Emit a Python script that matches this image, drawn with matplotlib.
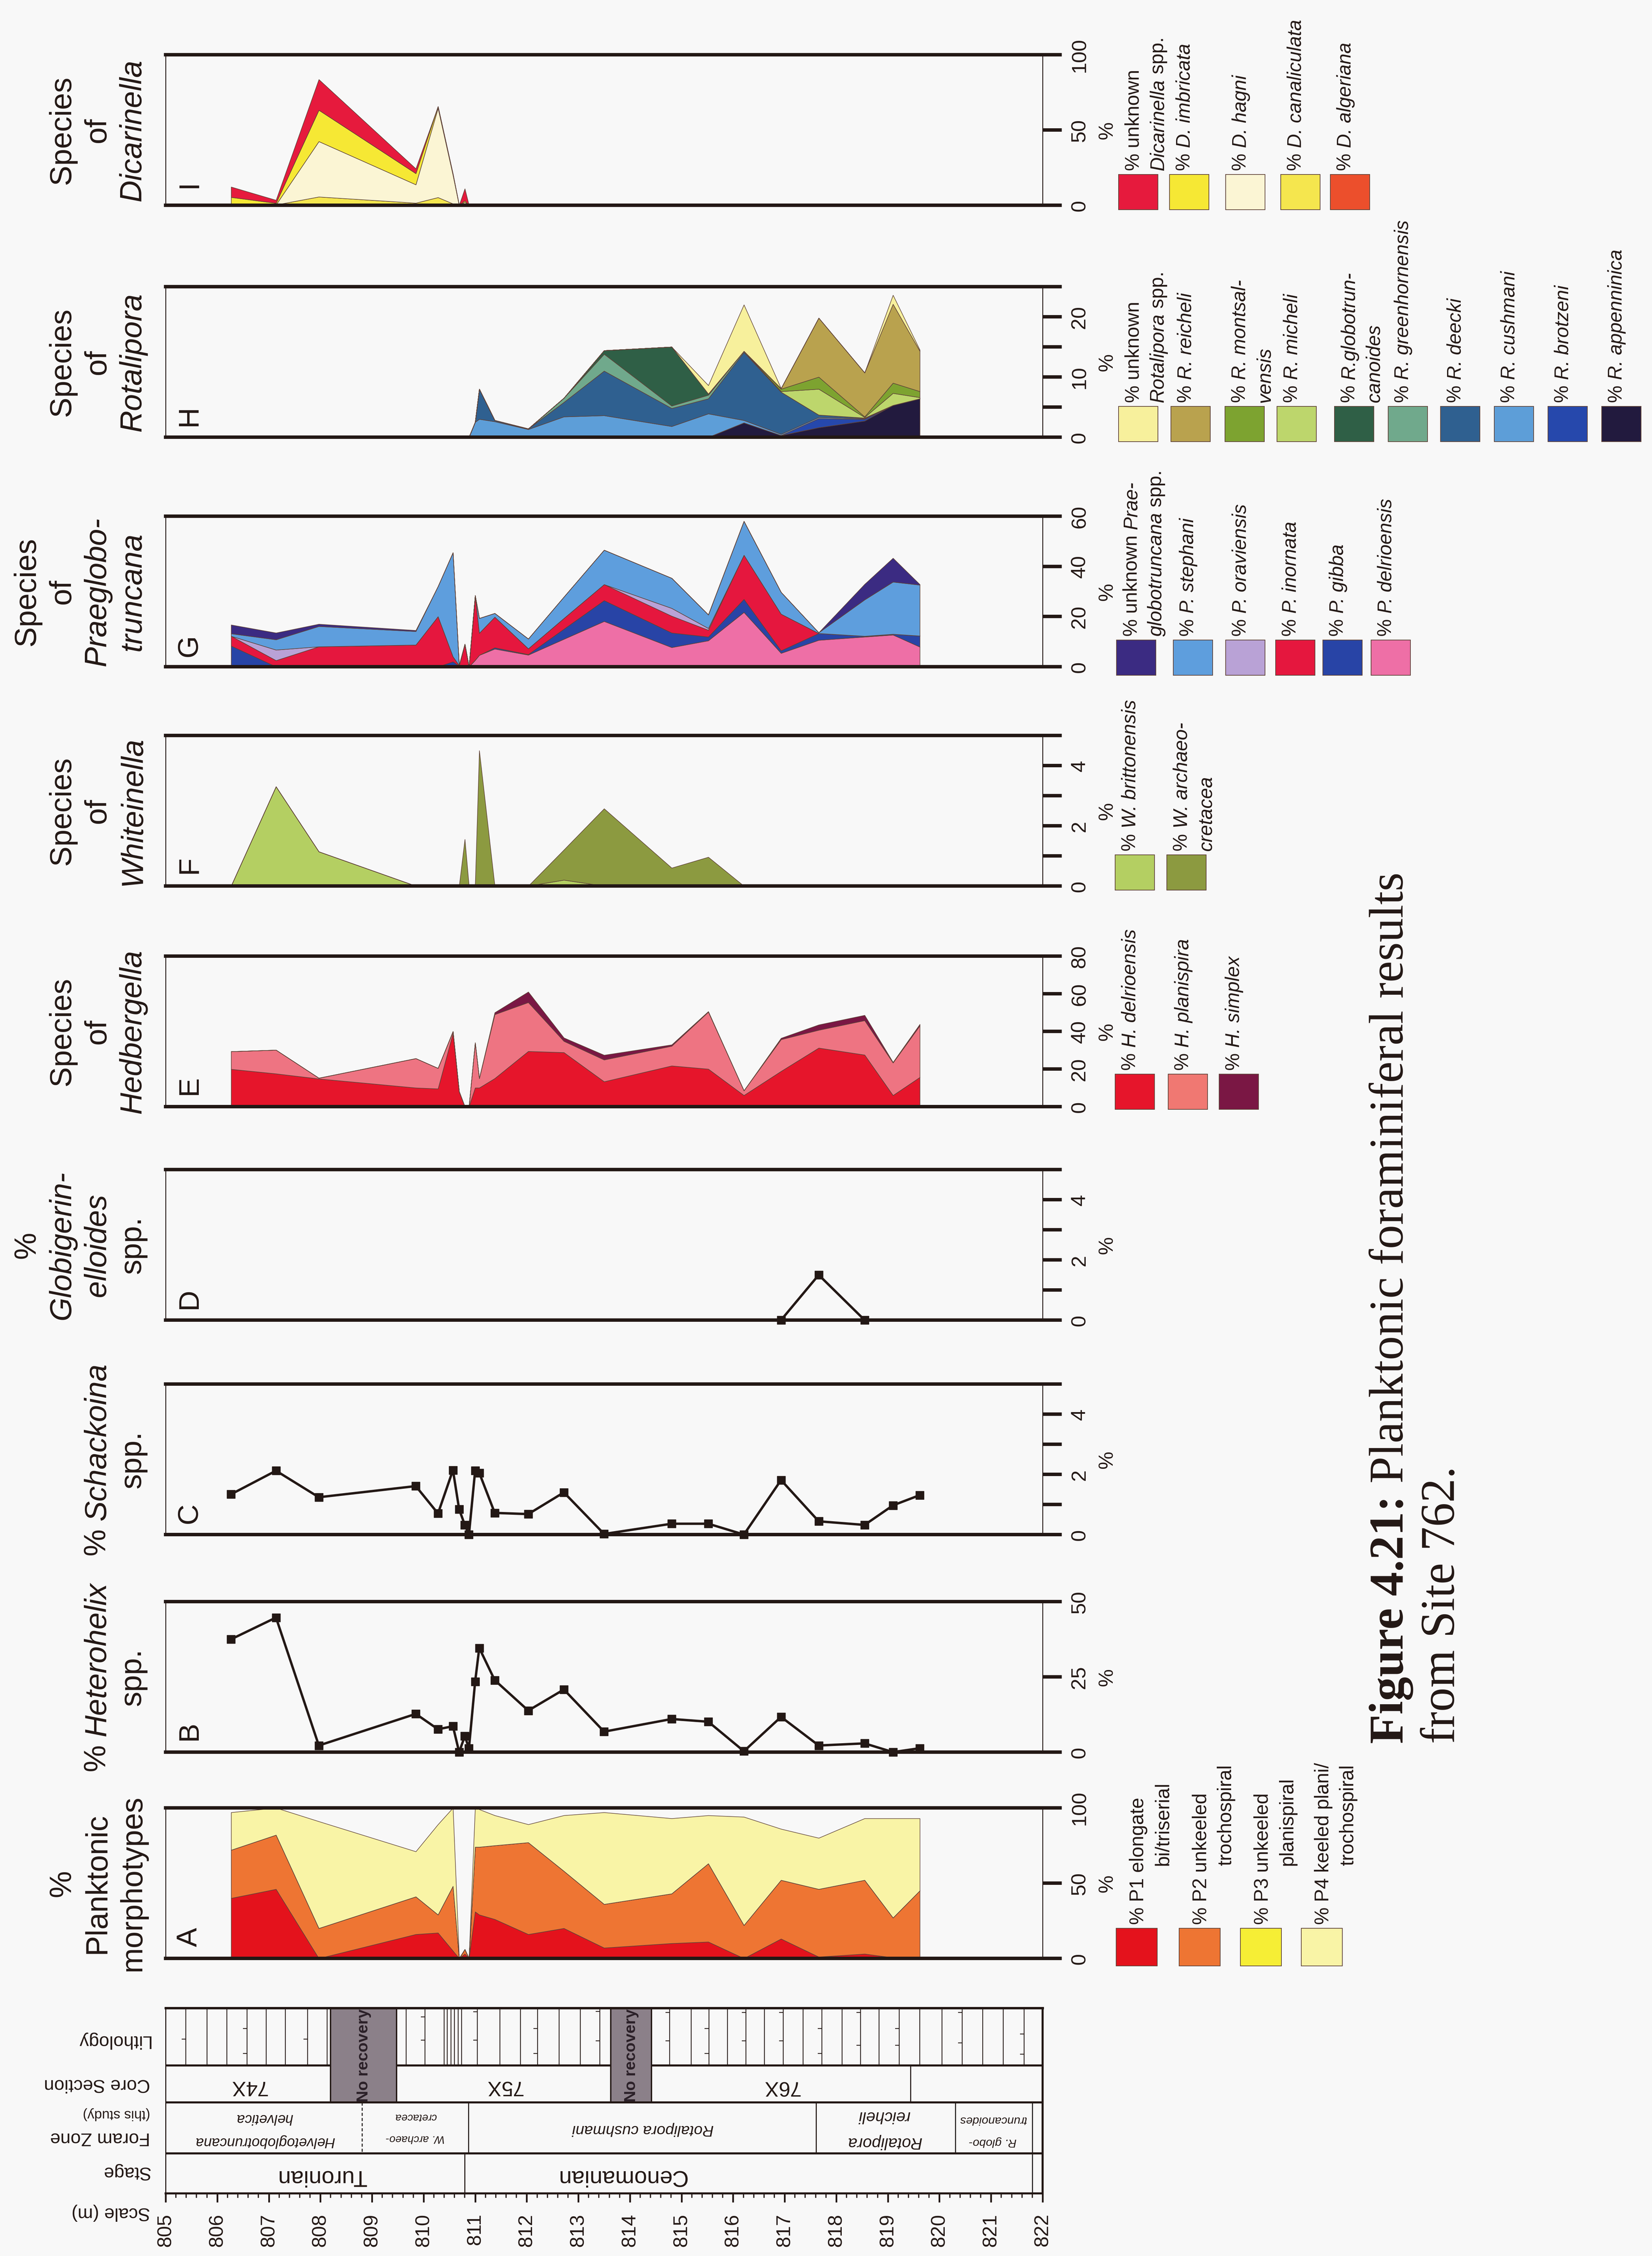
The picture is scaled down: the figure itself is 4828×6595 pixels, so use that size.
#!/usr/bin/env python3
"""Fig. 4.21 - planktonic foraminiferal results, Site 762 (page printed rotated)."""

import matplotlib
matplotlib.use("Agg")
import matplotlib.pyplot as plt
from matplotlib import font_manager
from matplotlib.patches import Rectangle
from matplotlib.ticker import MultipleLocator

W_PX, H_PX, DPI = 4828, 6596, 100
PT = 72.0 / DPI  # points per output pixel

INK = "#231815"
BG = "#f8f8f8"
EDGE = "#5e4238"
GRAY = "#8b8089"

# ---------------------------------------------------------------- data
depth_m = [806.27, 807.14, 807.97, 809.85, 810.28, 810.57, 810.69, 810.80,
           810.88, 811.00, 811.08, 811.38, 812.03, 812.72, 813.50, 814.81,
           815.52, 816.21, 816.93, 817.66, 818.55, 819.10, 819.62]

# A  morphotypes (%)
p1_elongate = [40, 46, 0, 16, 17, 5, 0, 3, 0, 31, 29, 26, 16, 20, 7, 10, 11, 0, 13, 1, 3, 0.5, 0]
p2_unkeeled_trocho = [32, 36, 20, 25, 12, 43, 0, 3, 0, 43, 45, 49, 61, 38, 29, 33, 52, 22, 39, 45, 49, 26.5, 45]
p3_unkeeled_plani = [0, 0, 0, 0, 0, 0, 0, 0, 0, 0, 0, 0, 0, 0, 0, 0, 0, 0, 0, 0, 0, 0, 0]
p4_keeled = [25, 18, 71, 30, 60, 52, 0, 0, 0, 26, 25, 20, 12, 37, 61, 50, 32, 72, 34, 34, 41, 66, 48]

# B, C line records (%)
heterohelix = [37.5, 44.7, 2.2, 12.7, 7.6, 8.6, 0.0, 5.3, 1.3, 23.4, 34.6, 23.9,
               13.8, 20.8, 6.8, 11.0, 10.1, 0.3, 11.7, 2.2, 2.9, 0.0, 1.3]
schackoina = [1.34, 2.12, 1.24, 1.61, 0.70, 2.14, 0.84, 0.32, 0.0, 2.12, 2.05, 0.72,
              0.68, 1.40, 0.02, 0.36, 0.36, 0.0, 1.81, 0.44, 0.32, 0.97, 1.31]

# D
globig_depth = [816.93, 817.66, 818.55]
globigerinelloides = [0.0, 1.5, 0.0]

# E  Hedbergella
h_delrioensis = [19.9, 17.5, 14.8, 10.0, 9.5, 39.0, 8.0, 0.0, 0.0, 10.0, 10.0, 15.0,
                 29.4, 28.8, 13.3, 21.7, 20.0, 6.0, 18.8, 31.2, 27.5, 6.0, 15.6]
h_planispira = [9.4, 12.6, 0.4, 15.6, 10.9, 1.0, 0.0, 0.0, 0.0, 24.0, 5.0, 34.0,
                26.0, 6.0, 11.6, 10.5, 30.3, 2.5, 16.9, 9.5, 18.3, 17.3, 27.4]
h_simplex = [0, 0, 0, 0, 0, 0, 0, 0, 0, 0, 0, 1.0, 5.6, 1.8, 2.5, 0.7, 0.3, 0, 0.7, 2.8, 2.8, 0.3, 0.8]

# F  Whiteinella
w_brittonensis = [0, 3.3, 1.14, 0, 0, 0, 0, 0, 0, 0, 0, 0, 0, 0.2, 0, 0, 0, 0, 0, 0, 0, 0, 0]
w_archaeocretacea = [0, 0, 0, 0, 0, 0, 0, 1.55, 0, 0, 4.5, 0, 0, 1.0, 2.57, 0.6, 0.96, 0, 0, 0, 0, 0, 0]

# G  Praeglobotruncana (bottom -> top)
p_delrioensis = [0, 0, 0, 0, 0, 0, 0, 0, 0, 2.6, 4.6, 7.1, 4.7, 11.0, 18.1, 7.7, 10.4, 21.7, 5.4, 10.6, 11.9, 12.7, 7.9]
p_gibba = [8.3, 0, 0, 0, 0, 2.0, 0.3, 0.5, 0, 0, 0, 0.5, 0.2, 4.0, 8.3, 5.8, 1.5, 5.2, 1.0, 2.7, 0.3, 0.3, 4.4]
p_inornata = [3.9, 2.5, 8.0, 8.7, 20.0, 2.0, 0.2, 8.5, 0, 25.8, 8.8, 12.2, 2.3, 4.3, 6.4, 6.7, 2.7, 17.6, 14.6, 0, 0, 0, 0]
p_oraviensis = [0, 4.2, 0, 0, 0, 0, 0, 0, 0, 0, 0, 0, 0, 0, 0, 3.1, 0.7, 0, 0, 0, 0, 0, 0]
p_stephani = [1.0, 4.1, 8.1, 5.4, 12.0, 41.5, 0, 0, 0, 0, 5.9, 1.5, 3.9, 8.5, 13.7, 12.0, 5.4, 13.5, 8.7, 0.3, 14.5, 20.8, 20.3]
p_unknown = [3.5, 2.7, 0.9, 0.4, 0, 0, 0, 0, 0, 0, 0, 0, 0, 0, 0, 0, 0, 0, 0, 0, 6.2, 9.5, 0.2]

# H  Rotalipora (bottom -> top)
r_appenninica = [0, 0, 0, 0, 0, 0, 0, 0, 0, 0, 0, 0, 0, 0, 0, 0, 0, 2.4, 0.3, 1.6, 2.7, 5.3, 6.4]
r_brotzeni = [0, 0, 0, 0, 0, 0, 0, 0, 0, 0, 0, 0, 0, 0, 0, 0, 0, 0, 0, 1.5, 0.3, 0, 0]
r_cushmani = [0, 0, 0, 0, 0, 0, 0, 0, 0, 2.5, 3.0, 2.6, 1.3, 3.4, 3.6, 1.8, 3.9, 0.4, 0.2, 0.2, 0.1, 0, 0]
r_deecki = [0, 0, 0, 0, 0, 0, 0, 0, 0, 0, 5.0, 0.2, 0.1, 2.4, 7.4, 3.0, 2.5, 11.3, 7.0, 0.4, 0.1, 0, 0]
r_greenhornensis = [0, 0, 0, 0, 0, 0, 0, 0, 0, 0, 0, 0, 0, 0.7, 2.8, 0.4, 0.6, 0.2, 0, 0, 0, 0, 0]
r_globotruncanoides = [0, 0, 0, 0, 0, 0, 0, 0, 0, 0, 0, 0, 0, 0, 0.6, 9.8, 0.2, 0, 0, 0, 0, 0, 0]
r_micheli = [0, 0, 0, 0, 0, 0, 0, 0, 0, 0, 0, 0, 0, 0, 0, 0, 0, 0, 0.1, 4.3, 0.1, 2.0, 0.2]
r_montsalvensis = [0, 0, 0, 0, 0, 0, 0, 0, 0, 0, 0, 0, 0, 0, 0, 0, 0, 0, 0.4, 2.0, 0.1, 1.7, 1.0]
r_reicheli = [0, 0, 0, 0, 0, 0, 0, 0, 0, 0, 0, 0, 0, 0, 0, 0, 0, 0, 0.1, 9.8, 7.3, 13.1, 6.7]
r_unknown = [0, 0, 0, 0, 0, 0, 0, 0, 0, 0, 0, 0, 0, 0, 0, 0, 1.4, 7.7, 0, 0, 0, 1.5, 0.2]

# I  Dicarinella (bottom -> top)
d_algeriana = [0, 0, 0, 0, 0, 0, 0, 0, 0, 0, 0, 0, 0, 0, 0, 0, 0, 0, 0, 0, 0, 0, 0]
d_canaliculata = [1.0, 0.3, 5.6, 1.5, 5.2, 1.0, 0, 0, 0, 0, 0, 0, 0, 0, 0, 0, 0, 0, 0, 0, 0, 0, 0]
d_hagni = [0, 0, 36.8, 12.2, 59.3, 19.0, 0, 2.0, 0, 0, 0, 0, 0, 0, 0, 0, 0, 0, 0, 0, 0, 0, 0]
d_imbricata = [4.3, 1.1, 20.8, 7.4, 1.1, 0.5, 0, 1.0, 0, 0, 0, 0, 0, 0, 0, 0, 0, 0, 0, 0, 0, 0, 0]
d_unknown = [6.9, 2.0, 20.4, 3.2, 0, 0.5, 0, 8.0, 0, 0, 0, 0, 0, 0, 0, 0, 0, 0, 0, 0, 0, 0, 0]

# stratigraphic column
stage_names = ["Turonian", "Cenomanian"]
stage_bounds = [805.0, 810.8, 821.8]
stage_label_at = [808.03, 813.84]
zone_bounds = [805.0, 808.81, 810.87, 817.61, 820.31, 821.8]
core_names = ["74X", "75X", "76X"]
core_spans = [(805.0, 808.2), (809.48, 813.63), (814.42, 819.44)]
no_recovery = [(808.2, 809.48), (813.63, 814.42)]
lith_lines = [805.39, 805.80, 806.19, 806.58, 806.95, 807.32, 807.75, 808.13,
              809.66, 810.03, 810.40, 810.46, 810.53, 810.60, 810.67, 810.74,
              811.04, 811.48, 811.88, 812.21, 812.63, 813.04, 813.42,
              814.77, 815.19, 815.53, 815.89, 816.25, 816.61, 816.97, 817.36,
              817.72, 818.11, 818.47, 818.83, 819.22, 819.62, 820.05, 820.44,
              820.84, 821.24, 821.64]
lith_marks = [(805.39, 5962), (806.58, 5931), (806.58, 6004), (807.75, 5962),
              (810.03, 5897), (810.03, 5965), (811.04, 5882), (811.04, 5965),
              (812.21, 5931), (812.21, 6004), (813.42, 5881), (813.42, 5967),
              (814.77, 5884), (814.77, 5967), (815.53, 5931), (815.53, 6004),
              (816.25, 5884), (816.25, 5967), (816.97, 5884), (816.97, 5967),
              (817.72, 5931), (817.72, 6004), (818.47, 5884), (818.47, 5980),
              (819.22, 5931), (819.22, 5980), (820.44, 5884), (820.44, 5973),
              (821.64, 5947), (821.64, 6006)]


# ---------------------------------------------------------------- fonts
def _pick(*names):
    avail = {f.name for f in font_manager.fontManager.ttflist}
    for n in names:
        if n in avail:
            return n
    return None


SANS = _pick("Liberation Sans", "Arial") or "DejaVu Sans"
NARROW = _pick("Liberation Sans Narrow", "Arial Narrow", "DejaVu Sans Condensed")
NK = 1.0
if NARROW is None:
    NARROW, NK = SANS, 0.84
SERIF = _pick("Liberation Serif", "Times New Roman") or "DejaVu Serif"

# ---------------------------------------------------------------- layout (pixels)
X0, X1 = 484, 3047          # 805 m .. 822 m
PANEL_H = 440
LITH, CORE, ZONE, STAGE = (5871, 6039), (6039, 6147), (6147, 6296), (6296, 6413)

fig = plt.figure(figsize=(W_PX / DPI, H_PX / DPI), dpi=DPI, facecolor=BG)
over = fig.add_axes([0, 0, 1, 1])
over.set_xlim(0, W_PX)
over.set_ylim(H_PX, 0)
over.axis("off")
renderer = fig.canvas.get_renderer()


def width_px(s, px, family, style="normal", weight="normal"):
    kw = dict(fontsize=px * PT, family=family, fontstyle=style, fontweight=weight)
    a = over.text(0, 0, s + "|", **kw)
    b = over.text(0, 0, "|", **kw)
    w = a.get_window_extent(renderer).width - b.get_window_extent(renderer).width
    a.remove()
    b.remove()
    return w


def run90(xb, y, parts, px, family, center=False):
    """Text read bottom-to-top; xb is the baseline, parts = (str, style[, weight])."""
    parts = [(p[0], p[1], p[2] if len(p) > 2 else "normal") for p in parts]
    widths = [width_px(s, px, family, st, wt) for s, st, wt in parts]
    if center:
        y = y + sum(widths) / 2
    for (s, st, wt), w in zip(parts, widths):
        over.text(xb, y, s, fontsize=px * PT, family=family, fontstyle=st,
                  fontweight=wt, rotation=90, rotation_mode="anchor",
                  ha="left", va="baseline", color=INK)
        y -= w


def panel_axes(bottom):
    top = bottom - PANEL_H
    ax = fig.add_axes([X0 / W_PX, 1 - bottom / H_PX, (X1 - X0) / W_PX, PANEL_H / H_PX])
    ax.set_xlim(805, 822)
    ax.set_facecolor("none")
    ax.xaxis.set_visible(False)
    for side in ("left", "right"):
        ax.spines[side].set_linewidth(2.6 * PT)
        ax.spines[side].set_color(INK)
    for side in ("top", "bottom"):
        ax.spines[side].set_linewidth(10 * PT)
        ax.spines[side].set_color(INK)
    ax.spines["left"].set_zorder(4)
    return ax, top


def style_values(ax, ymax, ticks, labeled):
    ax.set_ylim(0, ymax)
    ax.yaxis.tick_right()
    ax.set_yticks(ticks)
    ax.set_yticklabels([str(t) if t in labeled else "" for t in ticks],
                       fontfamily=NARROW, fontsize=72 * PT * NK, rotation=90,
                       va="center", color=INK)
    ax.tick_params(axis="y", direction="out", length=56 * PT, width=10 * PT,
                   pad=25 * PT, color=INK)


def stacked(ax, layers, colors):
    base = [0.0] * len(depth_m)
    for vals, col in zip(layers, colors):
        top = [b + v for b, v in zip(base, vals)]
        ax.fill_between(depth_m, base, top, facecolor=col, edgecolor=EDGE,
                        linewidth=1.6 * PT, zorder=1)
        base = top


def line_plot(ax, xs, ys):
    ax.plot(xs, ys, color=INK, lw=7 * PT, marker="s", ms=24 * PT,
            mfc=INK, mec=INK, zorder=5, clip_on=False)


TITLE_BASE = [102, 205, 308, 411]
N, I = "normal", "italic"

panels = [
    ("A", 5726, 100, [0, 50, 100], [0, 50, 100],
     [[("%", N)], [("Planktonic", N)], [("morphotypes", N)]]),
    ("B", 5123, 50, [0, 25, 50], [0, 25, 50],
     [[("% ", N), ("Heterohelix", I)], [("spp.", N)]]),
    ("C", 4487, 5, [0, 1, 2, 3, 4, 5], [0, 2, 4],
     [[("% ", N), ("Schackoina", I)], [("spp.", N)]]),
    ("D", 3860, 5, [0, 1, 2, 3, 4, 5], [0, 2, 4],
     [[("%", N)], [("Globigerin-", I)], [("elloides", I)], [("spp.", N)]]),
    ("E", 3236, 80, [0, 20, 40, 60, 80], [0, 20, 40, 60, 80],
     [[("Species", N)], [("of", N)], [("Hedbergella", I)]]),
    ("F", 2591, 5, [0, 1, 2, 3, 4, 5], [0, 2, 4],
     [[("Species", N)], [("of", N)], [("Whiteinella", I)]]),
    ("G", 1950, 60, [0, 20, 40, 60], [0, 20, 40, 60],
     [[("Species", N)], [("of", N)], [("Praeglobo-", I)], [("truncana", I)]]),
    ("H", 1279, 25, [0, 5, 10, 15, 20, 25], [0, 10, 20],
     [[("Species", N)], [("of", N)], [("Rotalipora", I)]]),
    ("I", 601, 100, [0, 50, 100], [0, 50, 100],
     [[("Species", N)], [("of", N)], [("Dicarinella", I)]]),
]

A_cols = ["#e4121c", "#ee7533", "#f6ee35", "#f9f4a6"]
E_cols = ["#e6152b", "#ee7482", "#7a1744"]
F_cols = ["#b4cf62", "#8c9a40"]
G_cols = ["#ee6fa6", "#2844a6", "#e5173e", "#b9a2d6", "#5e9edd", "#3b2b82"]
H_cols = ["#221a3e", "#2648ac", "#5d9ed8", "#2f6090", "#70a98c", "#2f5f46",
          "#bdd66c", "#7da330", "#b9a24e", "#f7f09c"]
I_cols = ["#ec4f2c", "#f5e64e", "#fbf5d4", "#f6e834", "#e61a3d"]

axes = {}
for key, bottom, ymax, ticks, labeled, title in panels:
    ax, top = panel_axes(bottom)
    style_values(ax, ymax, ticks, labeled)
    axes[key] = ax
    mid = (top + bottom) / 2
    # title block left of the panel
    for line, xb in zip(title, TITLE_BASE[-len(title):]):
        run90(xb, mid, line, 89, SANS, center=True)
    over.text(553, bottom - 63, key, fontsize=84 * PT, family=SANS, rotation=90,
              ha="center", va="center", color=INK)
    over.text(3236, mid, "%", fontsize=70 * PT * NK, family=NARROW, rotation=90,
              ha="center", va="center", color=INK)

stacked(axes["A"], [p1_elongate, p2_unkeeled_trocho, p3_unkeeled_plani, p4_keeled], A_cols)
line_plot(axes["B"], depth_m, heterohelix)
line_plot(axes["C"], depth_m, schackoina)
line_plot(axes["D"], globig_depth, globigerinelloides)
stacked(axes["E"], [h_delrioensis, h_planispira, h_simplex], E_cols)
stacked(axes["F"], [w_brittonensis, w_archaeocretacea], F_cols)
stacked(axes["G"], [p_delrioensis, p_gibba, p_inornata, p_oraviensis, p_stephani, p_unknown], G_cols)
stacked(axes["H"], [r_appenninica, r_brotzeni, r_cushmani, r_deecki, r_greenhornensis,
                    r_globotruncanoides, r_micheli, r_montsalvensis, r_reicheli, r_unknown], H_cols)
stacked(axes["I"], [d_algeriana, d_canaliculata, d_hagni, d_imbricata, d_unknown], I_cols)

# ---------------------------------------------------------------- legends
LEG_PX = 68 * NK


def legend_row(xs, bottom, items, sq=(115, 103), dx0=2, indent=0):
    for x, (col, lines) in zip(xs, items):
        over.add_patch(Rectangle((x, bottom - sq[1]), sq[0], sq[1], facecolor=col,
                                 edgecolor=EDGE, lw=2 * PT, zorder=3))
        cx = x + sq[0] / 2
        y0 = bottom - sq[1] - 12
        for i, parts in enumerate(lines):
            run90(cx + dx0 + i * 72, y0 - (indent if i else 0), parts, LEG_PX, NARROW)


legend_row([3262, 3446, 3625, 3803], 5748, [
    (A_cols[0], [[("% P1 elongate", N)], [("bi/triserial", N)]]),
    (A_cols[1], [[("% P2 unkeeled", N)], [("trochospiral", N)]]),
    (A_cols[2], [[("% P3 unkeeled", N)], [("planispiral", N)]]),
    (A_cols[3], [[("% P4 keeled plani/", N)], [("trochospiral", N)]]),
], sq=(120, 110), dx0=20, indent=172)

legend_row([3259, 3414, 3563], 3244, [
    (E_cols[0], [[("% ", N), ("H. delrioensis", I)]]),
    ("#f07872", [[("% ", N), ("H. planispira", I)]]),
    (E_cols[2], [[("% ", N), ("H. simplex", I)]]),
])

legend_row([3259, 3410], 2603, [
    (F_cols[0], [[("% ", N), ("W. brittonensis", I)]]),
    (F_cols[1], [[("% ", N), ("W. archaeo-", I)], [("cretacea", I)]]),
])

legend_row([3263, 3429, 3582, 3728, 3866, 4007], 1975, [
    (G_cols[5], [[("% unknown ", N), ("Prae-", I)], [("globotruncana", I), (" spp.", N)]]),
    (G_cols[4], [[("% ", N), ("P. stephani", I)]]),
    (G_cols[3], [[("% ", N), ("P. oraviensis", I)]]),
    (G_cols[2], [[("% ", N), ("P. inornata", I)]]),
    (G_cols[1], [[("% ", N), ("P. gibba", I)]]),
    (G_cols[0], [[("% ", N), ("P. delrioensis", I)]]),
])

legend_row([3269, 3422, 3580, 3732, 3900, 4057, 4210, 4367, 4524, 4681], 1292, [
    (H_cols[9], [[("% unknown", N)], [("Rotalipora", I), (" spp.", N)]]),
    (H_cols[8], [[("% ", N), ("R. reicheli", I)]]),
    (H_cols[7], [[("% ", N), ("R. montsal-", I)], [("vensis", I)]]),
    (H_cols[6], [[("% ", N), ("R. micheli", I)]]),
    (H_cols[5], [[("% ", N), ("R.globotrun-", I)], [("canoides", I)]]),
    (H_cols[4], [[("% ", N), ("R. greenhornensis", I)]]),
    (H_cols[3], [[("% ", N), ("R. deecki", I)]]),
    (H_cols[2], [[("% ", N), ("R. cushmani", I)]]),
    (H_cols[1], [[("% ", N), ("R. brotzeni", I)]]),
    (H_cols[0], [[("% ", N), ("R. appenninica", I)]]),
])

legend_row([3269, 3418, 3582, 3743, 3888], 614, [
    (I_cols[4], [[("% unknown", N)], [("Dicarinella", I), (" spp.", N)]]),
    (I_cols[3], [[("% ", N), ("D. imbricata", I)]]),
    (I_cols[2], [[("% ", N), ("D. hagni", I)]]),
    (I_cols[1], [[("% ", N), ("D. canaliculata", I)]]),
    (I_cols[0], [[("% ", N), ("D. algeriana", I)]]),
])

# caption
run90(4100, 5097, [("Figure 4.21:", N, "bold"), (" Planktonic foraminiferal results", N)], 141, SERIF)
run90(4250, 5097, [("from Site 762.", N)], 141, SERIF)

# ---------------------------------------------------------------- stratigraphic column
sax = fig.add_axes([X0 / W_PX, 1 - STAGE[1] / H_PX, (X1 - X0) / W_PX,
                    (STAGE[1] - LITH[0]) / H_PX])
sax.set_xlim(805, 822)
sax.set_ylim(STAGE[1], LITH[0])
sax.set_facecolor("none")
sax.yaxis.set_visible(False)
sax.spines["top"].set_linewidth(7 * PT)
sax.spines["bottom"].set_linewidth(6 * PT)
sax.spines["left"].set_linewidth(3 * PT)
sax.spines["right"].set_linewidth(6 * PT)
for s in sax.spines.values():
    s.set_color(INK)

for a, b in no_recovery:
    sax.add_patch(Rectangle((a, LITH[0]), b - a, CORE[1] - LITH[0], facecolor=GRAY,
                            edgecolor=INK, lw=4 * PT, zorder=2))
    sax.text((a + b) / 2, (LITH[0] + CORE[1]) / 2, "No recovery", rotation=90,
             ha="center", va="center", fontsize=56 * PT * NK, family=NARROW,
             fontweight="bold", color="#2b2028", zorder=3)

sax.vlines(lith_lines, LITH[0], LITH[1], color=INK, lw=2.4 * PT)
for d, y in lith_marks:
    sax.hlines(y, d - 0.08, d, color=INK, lw=2.4 * PT)

core_line = [(805.0, 808.2), (809.48, 813.63), (814.42, 822.0)]
for a, b in core_line:
    sax.hlines(CORE[0], a, b, color=INK, lw=6 * PT)
sax.hlines([ZONE[0], STAGE[0]], 805, 822, color=INK, lw=6 * PT)

sax.vlines([core_spans[-1][1]], CORE[0], CORE[1], color=INK, lw=3 * PT)
for (a, b), name in zip(core_spans, core_names):
    sax.text((a + b) / 2, 6100, name, rotation=180, ha="center", va="center",
             fontsize=61 * PT, family=SANS, color=INK)

sax.vlines(zone_bounds[2:], ZONE[0], ZONE[1], color=INK, lw=3 * PT)
sax.vlines([zone_bounds[1]], ZONE[0], ZONE[1], color=INK, lw=3 * PT, linestyles=(0, (3, 2)))
zone_text = [
    (806.92, [("Helvetoglobotruncana", 6260), ("helvetica", 6192)], 50),
    (809.84, [("W. archaeo-", 6251), ("cretacea", 6188)], 38),
    (814.25, [("Rotalipora cushmani", 6225)], 54),
    (818.93, [("Rotalipora", 6262), ("reicheli", 6186)], 57),
    (821.03, [("R. globo-", 6262), ("truncanoides", 6197)], 41),
]
for xd, lines, px in zone_text:
    for s, y in lines:
        sax.text(xd, y, s, rotation=180, ha="center", va="center", fontstyle="italic",
                 fontsize=px * PT * NK, family=NARROW, color=INK)

sax.vlines(stage_bounds[1:], STAGE[0], STAGE[1], color=INK, lw=3 * PT)
for name, xd in zip(stage_names, stage_label_at):
    sax.text(xd, 6363, name, rotation=180, ha="center", va="center",
             fontsize=67 * PT, family=SANS, color=INK)

sax.set_xticks(list(range(805, 823)))
sax.set_xticklabels([str(v) for v in range(805, 823)], fontfamily=NARROW,
                    fontsize=69 * PT * NK, rotation=90, color=INK)
sax.xaxis.set_minor_locator(MultipleLocator(0.2))
sax.tick_params(axis="x", which="major", direction="out", length=26 * PT,
                width=5 * PT, pad=32 * PT, color=INK)
sax.tick_params(axis="x", which="minor", direction="out", length=13 * PT,
                width=3.5 * PT, color=INK)

for s, y, px in [("Lithology", 5965, 64), ("Core Section", 6094, 64),
                 ("Foram Zone", 6250, 64), ("(this study)", 6180, 48),
                 ("Stage", 6349, 64), ("Scale (m)", 6468, 64)]:
    over.text(439, y, s, rotation=180, ha="right", va="center",
              fontsize=px * PT * NK, family=NARROW, color=INK)

fig.savefig("out.png", dpi=DPI, facecolor=BG)
